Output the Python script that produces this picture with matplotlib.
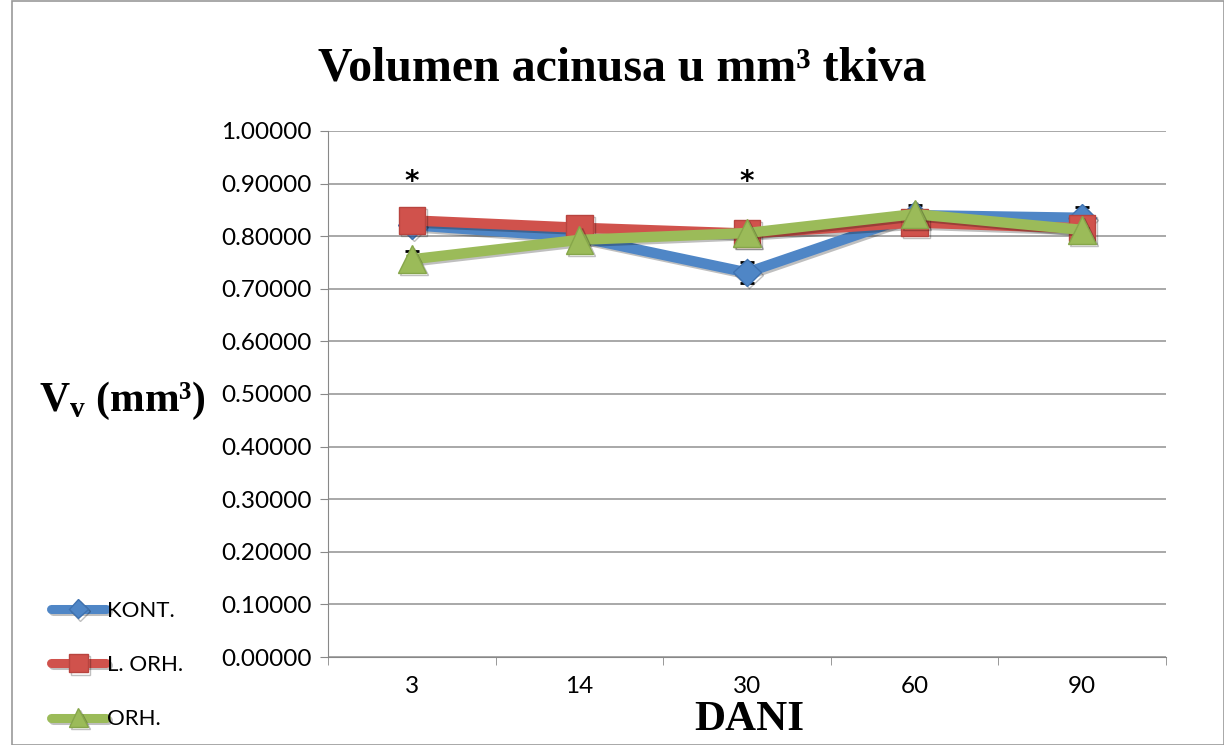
import matplotlib
matplotlib.use("Agg")
import matplotlib.pyplot as plt
from matplotlib.patches import Rectangle
import matplotlib.patheffects as pe

# data
days = ["3", "14", "30", "60", "90"]
kont = [0.821, 0.798, 0.731, 0.840, 0.835]
kont_err = [0.010, 0.008, 0.020, 0.020, 0.020]
l_orh = [0.830, 0.816, 0.805, 0.826, 0.815]
orh = [0.756, 0.793, 0.806, 0.842, 0.812]
orh_err = [0.016, 0.005, 0.005, 0.005, 0.005]
star_days = [0, 2]
star_y = 0.903

BLUE = "#4F86C6"
RED = "#D0524C"
GREEN = "#9BBB59"

plt.rcParams["mathtext.fontset"] = "custom"
plt.rcParams["mathtext.rm"] = "Liberation Serif:bold"
plt.rcParams["mathtext.bf"] = "Liberation Serif:bold"

fig = plt.figure(figsize=(12.24, 7.45), dpi=100)
ax = fig.add_axes([0.268, 0.1181, 0.6846, 0.7061])

x = list(range(len(days)))
shadow = [pe.SimpleLineShadow(offset=(1.5, -1.5), alpha=0.25), pe.Normal()]

# error bars drawn behind the lines
ax.errorbar(x, kont, yerr=kont_err, fmt="none", ecolor="black",
            elinewidth=1.2, capsize=5, capthick=2, zorder=2)
ax.errorbar(x, orh, yerr=orh_err, fmt="none", ecolor="black",
            elinewidth=1.2, capsize=5, capthick=2, zorder=2)

ax.plot(x, kont, color=BLUE, lw=7.5, marker="D", ms=14, mfc=BLUE, mec="#3F72B0",
        label="KONT.", zorder=3, path_effects=shadow, solid_joinstyle="round")
ax.plot(x, l_orh, color=RED, lw=7.5, marker="s", ms=19, mfc=RED, mec="#B8443F",
        label="L. ORH.", zorder=4, path_effects=shadow, solid_joinstyle="round")
ax.plot(x, orh, color=GREEN, lw=7.5, marker="^", ms=20, mfc=GREEN, mec="#86A64A",
        label="ORH.", zorder=5, path_effects=shadow, solid_joinstyle="round")

for i in star_days:
    ax.text(i, star_y, "*", ha="center", va="center", fontsize=20,
            fontweight="bold", family="DejaVu Sans")

ax.set_xlim(-0.5, len(days) - 0.5)
ax.set_ylim(0, 1.0)
ax.set_yticks([i / 10 for i in range(11)])
ax.set_yticklabels([f"{i / 10:.5f}" for i in range(11)])
ax.set_xticks(x)
ax.set_xticklabels(days)
ax.set_xticks([i - 0.5 for i in range(len(days) + 1)], minor=True)
ax.tick_params(axis="x", which="major", length=0, pad=14)
ax.tick_params(axis="x", which="minor", length=6, color="#888888")
ax.tick_params(axis="y", length=6, color="#888888", pad=6)
for lab in ax.get_xticklabels() + ax.get_yticklabels():
    lab.set_fontfamily("Lato")
    lab.set_fontsize(17.5)

ax.grid(axis="y", color="#999999", lw=1.2)
ax.set_axisbelow(True)
for s in ["top", "right"]:
    ax.spines[s].set_visible(False)
ax.spines["left"].set_color("#888888")
ax.spines["bottom"].set_color("#888888")

fig.text(0.508, 0.908, "Volumen acinusa u mm³ tkiva", ha="center", va="center",
         fontsize=34.5, fontweight="bold", family="Liberation Serif")
fig.text(0.1, 0.462, r"V$_{\mathregular{v}}$ (mm³)",
         ha="center", va="center", fontsize=30, fontweight="bold",
         family="Liberation Serif")
fig.text(0.612, 0.033, "DANI", ha="center", va="center", fontsize=31,
         fontweight="bold", family="Liberation Serif")

leg = fig.legend(loc="lower left", bbox_to_anchor=(0.025, -0.006), frameon=False,
                 prop={"family": "Lato", "size": 16}, handlelength=2.5,
                 handletextpad=0.05, labelspacing=1.55, markerscale=0.7)
for h in leg.get_lines():
    h.set_linewidth(6.5)
    h.set_solid_capstyle("round")

fig.patches.append(Rectangle((0.0098, 0.0), 0.99, 0.999, transform=fig.transFigure,
                             fill=False, edgecolor="#999999", lw=1.2))

fig.savefig("out.png", dpi=100)
